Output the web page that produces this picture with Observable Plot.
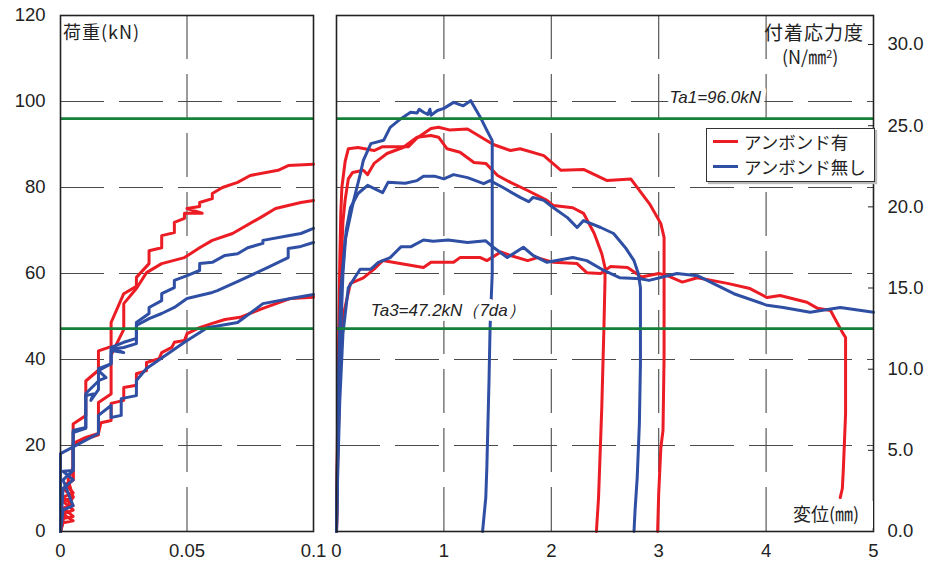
<!DOCTYPE html>
<html><head><meta charset="utf-8">
<script src="https://cdn.jsdelivr.net/npm/d3@7"></script>
<script src="https://cdn.jsdelivr.net/npm/@observablehq/plot@0.6"></script>
<style>
body{margin:0;background:#fff;}
#wrap{position:relative;width:937px;height:568px;overflow:hidden;font-family:"Liberation Sans",Arial,sans-serif;color:#222;}
#left,#right{position:absolute;top:0;}
#left{left:0}
#right{left:330px}
.jp{font-family:"Noto Sans CJK JP",sans-serif;position:absolute;color:#222;line-height:1;}
#legend{position:absolute;left:706px;top:128px;width:169px;height:54px;background:#fff;border:1px solid #333;box-shadow:2px 2px 1px #bbb;box-sizing:border-box;}
#legend .row{position:absolute;left:6px;display:flex;align-items:center;font-size:17.5px;}
#legend .sw{width:25px;height:3.2px;margin-right:6px;}
</style></head>
<body>
<div id="wrap">
  <div id="left"></div>
  <div id="right"></div>
</div>
<script>
// ---- categories / styling keys ----
const groups = ["アンボンド有", "アンボンド無し"];
const groupColors = ["#ec1c24", "#2e4fa3"];
const allowGreen = "#15803a";

// ---- tick values ----
const loadTicks = [0, 20, 40, 60, 80, 100, 120];
const loadGrid = [20, 40, 60, 80, 100];
const leftXTicks = [0, 0.05, 0.1];
const leftXGrid = [0.05];
const rightXTicks = [0, 1, 2, 3, 4, 5];
const rightXGrid = [1, 2, 3, 4];
const stressTicks = [0, 5, 10, 15, 20, 25, 30];
const kNPerStress = 3.775; // 荷重(kN) per 付着応力度(N/mm2)

// ---- allowable loads ----
const allowLoads = [96.0, 47.2];
const allowLabels = [
  {text: "Ta1=96.0kN", x: 3.1, y: 101},
  {text: "Ta3=47.2kN（7da）", x: 0.32, y: 51.3}
];

// ---- left panel (displacement 0–0.1 mm) ----
const leftRed1 = [[0,0],[0.001,3],[0.005,3.5],[0.001,5.5],[0.005,6],[0.001,8],[0.005,9],[0.002,11],[0.005,12],[0.005,25],[0.01,27],[0.01,35],[0.015,37.5],[0.015,42],[0.02,43],[0.02,48.6],[0.025,55.3],[0.03,57],[0.03,59.1],[0.035,62.3],[0.035,65.3],[0.04,66],[0.04,68.8],[0.045,69.5],[0.045,71.9],[0.049,72.8],[0.049,74],[0.056,74],[0.05,75.1],[0.055,75.6],[0.055,76.5],[0.06,77.4],[0.06,78.6],[0.064,80],[0.07,81.2],[0.075,82.8],[0.086,84],[0.09,85.1],[0.1,85.4]];
const leftRed2 = [[0,0],[0.002,5],[0.005,8],[0.003,12],[0.005,15],[0.005,20],[0.01,21.5],[0.015,22.5],[0.015,30],[0.02,32],[0.02,41],[0.025,47],[0.025,53],[0.03,56.5],[0.034,60.2],[0.04,62.3],[0.049,63.7],[0.055,66],[0.06,67.7],[0.068,69.3],[0.079,73],[0.085,75.1],[0.095,76.5],[0.1,77]];
const leftRed3 = [[0,0],[0.001,2],[0.005,2.5],[0.001,4],[0.005,5],[0.001,7],[0.005,8],[0.001,10],[0.005,12],[0.005,14.9],[0.005,20.5],[0.01,21.9],[0.015,22.8],[0.016,25.3],[0.02,25.8],[0.02,29.8],[0.025,30.5],[0.025,33.5],[0.03,34],[0.03,36.7],[0.034,37.4],[0.034,39.3],[0.039,40.2],[0.04,41.6],[0.044,42.8],[0.045,44],[0.049,44.4],[0.05,46],[0.055,47.4],[0.06,48.4],[0.065,49.3],[0.071,49.8],[0.08,51.9],[0.091,54.2],[0.1,54.5]];
const leftBlue1 = [[0,0],[0.001,5],[0.005,6],[0.001,12],[0.005,14.2],[0.005,23.5],[0.01,24.2],[0.01,31.6],[0.013,32],[0.012,30.5],[0.015,33],[0.015,35.1],[0.018,35.8],[0.015,37.4],[0.02,39],[0.02,42.1],[0.025,41.6],[0.021,42.5],[0.025,42.8],[0.03,43.7],[0.03,48.6],[0.035,50.7],[0.035,52.1],[0.04,53.7],[0.04,55.3],[0.045,56.7],[0.045,58.4],[0.05,59.5],[0.055,60.7],[0.055,62.3],[0.06,62.6],[0.065,64.2],[0.07,64.6],[0.074,66],[0.08,67],[0.08,67.7],[0.09,68.8],[0.095,69.3],[0.1,70.5]];
const leftBlue2 = [[0,0],[0.001,10],[0.005,12],[0.001,14],[0.005,14.2],[0.005,23],[0.01,24],[0.01,32.1],[0.015,35],[0.015,37.9],[0.02,39],[0.02,42.8],[0.025,44],[0.03,44.9],[0.03,47.9],[0.035,49.5],[0.04,50.7],[0.045,52.1],[0.05,54.2],[0.055,54.9],[0.06,55.6],[0.062,56],[0.071,58.4],[0.082,61.4],[0.09,63.7],[0.09,65.8],[0.095,66.3],[0.1,67.2]];
const leftBlue3 = [[0,0],[0,18.1],[0.015,22.8],[0.015,27],[0.02,29.3],[0.02,26.5],[0.024,27],[0.024,30.9],[0.03,31.6],[0.03,35.1],[0.034,37.9],[0.049,44],[0.058,47.4],[0.07,48.6],[0.08,53],[0.091,54.2],[0.1,55.1]];

// ---- right panel (displacement 0–5 mm) ----
const rightRed1 = [[0,0],[0.01,25],[0.02,45],[0.03,62],[0.04,74],[0.05,80],[0.08,86],[0.11,89],[0.2,89.3],[0.35,88.6],[0.43,89.5],[0.67,89.5],[0.75,91.5],[0.88,93.7],[0.95,94],[1.05,93.4],[1.22,93.6],[1.46,90],[1.62,88.6],[1.71,89],[1.93,87.4],[2.09,84],[2.3,84.2],[2.52,81.6],[2.74,82],[2.92,76],[3.02,71.6],[3.05,68.4],[3.05,58],[3.05,40.5],[3.04,23.5],[3.02,19.5],[3.0,8.8],[2.99,0]];
const rightRed2 = [[0,0],[0.01,20],[0.02,40],[0.04,60],[0.06,72],[0.08,77],[0.11,82],[0.15,83.5],[0.25,84],[0.29,83],[0.35,85.6],[0.47,87.9],[0.62,89.3],[0.75,91.7],[0.88,92.1],[0.95,91.7],[1.03,89],[1.15,88.2],[1.28,85.8],[1.39,85.6],[1.5,82.8],[1.62,81.2],[1.78,79.3],[1.96,77],[2.02,75.8],[2.2,75.3],[2.3,74],[2.4,69.3],[2.47,64.6],[2.5,61.4],[2.5,58.4],[2.49,47.4],[2.47,28.8],[2.44,7.9],[2.42,0]];
const rightRed3 = [[0,0],[0.01,15],[0.03,35],[0.06,50],[0.13,57.7],[0.25,59],[0.35,61],[0.43,63],[0.81,61.4],[0.88,62.6],[1.09,62.6],[1.15,63.7],[1.34,63.7],[1.4,63],[1.53,65],[1.62,64.2],[1.78,63],[1.87,63.7],[2.02,62.6],[2.24,62.3],[2.33,60.2],[2.46,60],[2.55,61.6],[2.71,61.4],[2.84,59.2],[3.0,60],[3.08,59.5],[3.22,58],[3.36,59],[3.64,57.7],[3.85,56.5],[4.01,54.4],[4.13,54.9],[4.38,53.3],[4.48,51.9],[4.6,51.4],[4.71,46.3],[4.74,45.1],[4.74,27.4],[4.72,14.9],[4.71,10],[4.69,7.9]];
const rightBlue1 = [[0,0],[0.01,20],[0.02,38],[0.04,56],[0.08,67.7],[0.16,77],[0.22,83],[0.25,86.3],[0.32,90.2],[0.44,91],[0.5,94],[0.6,96],[0.69,97.5],[0.75,97.3],[0.77,98.2],[0.81,97.5],[0.85,97],[0.87,98.2],[0.88,96.8],[0.94,97.9],[1.0,98.4],[1.09,99.8],[1.18,99],[1.25,100.2],[1.34,96.3],[1.4,93.3],[1.45,90.9],[1.45,77.7],[1.45,60],[1.43,47.4],[1.42,35],[1.4,15],[1.39,7.9],[1.36,0]];
const rightBlue2 = [[0,0],[0.01,18],[0.03,40],[0.06,60],[0.09,70],[0.13,75.3],[0.2,78.6],[0.29,80.5],[0.43,78.8],[0.48,81.2],[0.64,81],[0.75,81.6],[0.81,82.6],[0.92,82.6],[1.0,82],[1.09,83],[1.22,82.3],[1.37,80.9],[1.43,81.6],[1.55,80],[1.71,77.7],[1.79,76.7],[1.83,77.7],[1.93,77],[2.02,75.3],[2.15,73],[2.24,70.7],[2.3,72.3],[2.46,70.7],[2.58,69.3],[2.69,66],[2.77,63],[2.81,60],[2.83,56.7],[2.83,39],[2.82,25],[2.8,12.6],[2.78,5],[2.77,0]];
const rightBlue3 = [[0,0],[0.01,12],[0.03,30],[0.06,46],[0.11,56.7],[0.22,61],[0.32,61],[0.39,62.6],[0.5,63.7],[0.6,66.2],[0.69,66.2],[0.81,67.8],[0.9,67.5],[1.04,67.8],[1.22,67.2],[1.39,67.6],[1.46,66.1],[1.59,63.7],[1.74,66.1],[1.83,64.2],[1.96,62.6],[2.2,63.7],[2.33,63],[2.49,60.7],[2.64,59],[2.83,58.8],[2.91,58.4],[3.17,60],[3.36,59.5],[3.7,55.3],[4.01,52.6],[4.16,52.1],[4.41,51],[4.69,52.1],[5.0,51]];

// ---- build tables ----
function toRows(series) {
  const rows = [];
  series.forEach(([id, group, pts]) => pts.forEach(([x, y]) => rows.push({id, group, x, y})));
  return rows;
}
const leftRows = toRows([
  ["L-R1", groups[0], leftRed1], ["L-R2", groups[0], leftRed2], ["L-R3", groups[0], leftRed3],
  ["L-B1", groups[1], leftBlue1], ["L-B2", groups[1], leftBlue2], ["L-B3", groups[1], leftBlue3]
]);
const rightRows = toRows([
  ["R-R1", groups[0], rightRed1], ["R-R2", groups[0], rightRed2], ["R-R3", groups[0], rightRed3],
  ["R-B1", groups[1], rightBlue1], ["R-B2", groups[1], rightBlue2], ["R-B3", groups[1], rightBlue3]
]);

const font = '"Liberation Sans", Arial, sans-serif';
const gridStyle = {stroke: "#4a4a4a", strokeOpacity: 1, strokeWidth: 1.1, strokeDasharray: "44,15"};
const lineStyle = {x: "x", y: "y", z: "id", stroke: "group", strokeWidth: 3, strokeLinejoin: "round", strokeLinecap: "round", curve: "linear"};

const common = {
  height: 568, marginTop: 15, marginBottom: 37,
  y: {domain: [0, 120]},
  color: {domain: groups, range: groupColors},
  style: {fontFamily: font, fontSize: "18.5px", color: "#222", background: "transparent", overflow: "visible"}
};

const leftPlot = Plot.plot({
  ...common,
  width: 330, marginLeft: 60, marginRight: 17,
  x: {domain: [0, 0.1]},
  marks: [
    Plot.gridY(loadGrid, gridStyle),
    Plot.gridX(leftXGrid, gridStyle),
    Plot.line(leftRows, lineStyle),
    Plot.ruleY(allowLoads, {stroke: allowGreen, strokeWidth: 2.8}),
    Plot.frame({stroke: "#222", strokeWidth: 1.6}),
    Plot.axisY(loadTicks, {tickSize: 0, tickPadding: 15, label: null, fontSize: 18.5}),
    Plot.axisX(leftXTicks, {tickSize: 0, tickPadding: 12, label: null, fontSize: 18.5, tickFormat: d => String(d)})
  ]
});
document.getElementById("left").appendChild(leftPlot);

const rightPlot = Plot.plot({
  ...common,
  width: 607, marginLeft: 6, marginRight: 64,
  x: {domain: [0, 5]},
  marks: [
    Plot.gridY(loadGrid, gridStyle),
    Plot.gridX(rightXGrid, gridStyle),
    Plot.line(rightRows, lineStyle),
    Plot.ruleY(allowLoads, {stroke: allowGreen, strokeWidth: 2.8}),
    Plot.text(allowLabels, {x: "x", y: "y", text: "text", textAnchor: "start", fontSize: 17, fontStyle: "italic", fill: "#222", stroke: "white", strokeWidth: 10, fontFamily: font}),
    Plot.frame({stroke: "#222", strokeWidth: 1.6}),
    Plot.axisY(stressTicks.map(s => s * kNPerStress), {anchor: "right", tickSize: -6, tickPadding: 20, label: null, fontSize: 18.5, stroke: "#222", tickFormat: d => (d / kNPerStress).toFixed(1)}),
    Plot.axisX(rightXTicks, {tickSize: 0, tickPadding: 12, label: null, fontSize: 18.5})
  ]
});
document.getElementById("right").appendChild(rightPlot);

// ---- text labels & legend ----
const wrap = document.getElementById("wrap");
function addLabel(html, css) {
  const d = document.createElement("div");
  d.className = "jp";
  d.innerHTML = html;
  Object.assign(d.style, css);
  wrap.appendChild(d);
}
addLabel("荷重(kN)", {left: "63px", top: "22px", fontSize: "18px", letterSpacing: "1px"});
addLabel("付着応力度", {left: "764px", top: "22px", fontSize: "19px", letterSpacing: "1px"});
addLabel("(N/㎜<sup style='font-size:11px;vertical-align:6px'>2</sup>)", {left: "782px", top: "47px", fontSize: "18px"});
addLabel("変位(㎜)", {left: "788px", top: "501px", fontSize: "18px", background: "#fff", padding: "3px 6px 6px 5px", width: "74px"});

const legend = document.createElement("div");
legend.id = "legend";
groups.forEach((g, i) => {
  const row = document.createElement("div");
  row.className = "row jp";
  row.style.position = "absolute";
  row.style.top = (i === 0 ? 4 : 29) + "px";
  row.innerHTML = `<span class="sw" style="background:${groupColors[i]}"></span><span>${g}</span>`;
  legend.appendChild(row);
});
wrap.appendChild(legend);
</script>
</body></html>
